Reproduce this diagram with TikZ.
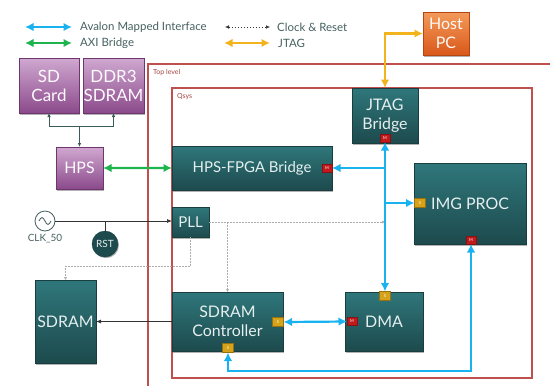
\documentclass[tikz,border=0pt]{standalone}
\usepackage{fontspec}
\setmainfont{Lato}
\usetikzlibrary{arrows.meta,shadows,calc}

\definecolor{tealtop}{HTML}{2F777B}
\definecolor{tealbot}{HTML}{1D4A4D}
\definecolor{tealedge}{HTML}{183E40}
\definecolor{purtop}{HTML}{D0A8D0}
\definecolor{purbot}{HTML}{8B4A8B}
\definecolor{puredge}{HTML}{6E356E}
\definecolor{ortop}{HTML}{F39A5A}
\definecolor{orbot}{HTML}{D9581A}
\definecolor{oredge}{HTML}{B4470F}
\definecolor{avlblue}{HTML}{19B2F0}
\definecolor{axigreen}{HTML}{1DB44E}
\definecolor{jtagyellow}{HTML}{F2B31C}
\definecolor{framered}{HTML}{C0504D}
\definecolor{legendtext}{HTML}{466060}
\definecolor{treeline}{HTML}{3B5B5B}
\definecolor{mred}{HTML}{C01A1C}
\definecolor{sgold}{HTML}{D6A21A}

\tikzset{
  box/.style={draw, line width=0.6bp, inner sep=0pt, outer sep=0pt, anchor=north west,
    align=center, drop shadow={shadow xshift=1.2bp, shadow yshift=-1.5bp, opacity=0.3, fill=black}},
  tealbox/.style={box, draw=tealedge, top color=tealtop, bottom color=tealbot, text=white!88!tealtop,
    font=\fontsize{16}{19}\selectfont},
  purbox/.style={box, draw=puredge, top color=purtop, bottom color=purbot, text=white!95!purtop,
    font=\fontsize{17}{19}\selectfont},
  orbox/.style={box, draw=oredge, top color=ortop, bottom color=orbot, text=white!95!ortop,
    font=\fontsize{16}{19}\selectfont},
  tagbase/.style={inner sep=0pt, outer sep=0pt, minimum width=10bp, minimum height=8bp,
    text=white, font=\fontsize{4}{4}\selectfont},
  mtag/.style={tagbase, fill=mred, draw=mred!70!black, line width=0.4bp},
  stag/.style={tagbase, fill=sgold, draw=sgold!70!black, line width=0.4bp, minimum width=11bp, minimum height=9bp},
  avl/.style={draw=avlblue, line width=2.2bp, >={Latex[length=8.5bp,width=8.5bp]}},
  axi/.style={draw=axigreen, line width=2.2bp, >={Latex[length=8.5bp,width=8.5bp]}},
  jtg/.style={draw=jtagyellow, line width=2.2bp, >={Latex[length=8.5bp,width=8.5bp]}},
  clkline/.style={draw=gray!65, dash pattern=on 1.5bp off 1.5bp, line width=0.5bp,
    >={Latex[length=3bp,width=3bp]}},
  blk/.style={draw=black!80, line width=0.7bp, >={Latex[length=5bp,width=4bp]}},
  tree/.style={draw=treeline, line width=0.8bp, >={Latex[length=4bp,width=3.5bp]}},
  frame/.style={draw=framered, line width=1.2bp},
  legend/.style={anchor=west, inner sep=0pt, text=legendtext, font=\fontsize{11.5}{13}\selectfont},
  framelabel/.style={anchor=west, inner sep=0pt, text=framered!85!black, font=\fontsize{7}{8}\selectfont},
}

\begin{document}
\begin{tikzpicture}[x=1bp, y=-1bp]
\useasboundingbox (0,0) rectangle (550,385);
\clip (0,0) rectangle (550,385);

% legend
\coordinate (la1) at (25,27);  \coordinate (la2) at (72,27);
\coordinate (lb1) at (25,43);  \coordinate (lb2) at (72,43);
\coordinate (lc1) at (225,27); \coordinate (lc2) at (270,27);
\coordinate (ld1) at (224,43); \coordinate (ld2) at (270,43);
\draw[avl,<->] (la1) -- (la2);
\draw[axi,<->] (lb1) -- (lb2);
\draw[blk,line width=0.5bp,dash pattern=on 1.5bp off 1.5bp,>={Latex[length=4bp,width=3.5bp]},<->] (lc1) -- (lc2);
\draw[jtg,<->] (ld1) -- (ld2);
\node[legend] (lta) at (80,27) {Avalon Mapped Interface};
\node[legend] (ltb) at (80,43) {AXI Bridge};
\node[legend] (ltc) at (277,27) {Clock \& Reset};
\node[legend] (ltd) at (278,43) {JTAG};

% frames
\draw[frame] (148,64) rectangle (600,420);
\draw[frame] (172,88) rectangle (532,378);
\node[framelabel] (toplabel) at (153,73) {Top level};
\node[framelabel] (qsyslabel) at (177,97) {Qsys};

% hard processor side
\node[purbox, minimum width=60bp, minimum height=55bp] (sdcard) at (19,58) {SD\\Card};
\node[purbox, minimum width=61bp, minimum height=55bp] (ddr3) at (83,58) {DDR3\\SDRAM};
\node[purbox, minimum width=47bp, minimum height=42bp, font=\fontsize{16}{19}\selectfont] (hps) at (56,147) {HPS};
\node[orbox, minimum width=46bp, minimum height=43bp] (hostpc) at (423,12) {Host\\PC};

% fabric blocks
\node[tealbox, minimum width=66bp, minimum height=55bp] (jtag) at (352,88) {JTAG\\Bridge};
\node[tealbox, minimum width=160bp, minimum height=44bp, font=\fontsize{15}{18}\selectfont] (hpsfpga) at (172,146) {HPS-FPGA Bridge};
\node[tealbox, minimum width=112bp, minimum height=81bp] (imgproc) at (414,163) {IMG PROC};
\node[tealbox, minimum width=37bp, minimum height=30bp, font=\fontsize{15}{18}\selectfont] (pll) at (172,207) {PLL};
\node[tealbox, minimum width=111bp, minimum height=59bp] (sdramctl) at (172,292) {SDRAM\\Controller};
\node[tealbox, minimum width=78bp, minimum height=59bp] (dma) at (345,292) {DMA};
\node[tealbox, minimum width=61bp, minimum height=83bp] (sdram) at (35,280) {SDRAM};

% interface tags
\node[mtag] (jtagM) at (385,138) {M};
\node[mtag] (hpsfpgaM) at (327,168) {M};
\node[stag] (imgS) at (420,203) {S};
\node[mtag] (imgM) at (471,240) {M};
\node[stag] (dmaS) at (385,296) {S};
\node[mtag] (dmaM) at (352,321.5) {M};
\node[stag] (ctlS) at (278,322) {S};
\node[stag] (ctlSb) at (228,348) {S};

% clock and reset sources
\node[circle, draw=legendtext, line width=0.8bp, fill=white, minimum size=20bp, inner sep=0pt] (clk) at (45,221) {};
\draw[legendtext, line width=0.8bp] ($(clk.center)+(-6,0)$) sin ++(3,-3.5) cos ++(3,3.5) sin ++(3,3.5) cos ++(3,-3.5);
\node[text=legendtext, font=\fontsize{10}{12}\selectfont, inner sep=0pt] (clklabel) at (45,239) {CLK\_50};
\node[circle, fill=tealbot, draw=tealedge, minimum size=26bp, inner sep=0pt, text=white!88!tealtop,
      font=\fontsize{10}{12}\selectfont, drop shadow={shadow xshift=1bp, shadow yshift=-1.2bp, opacity=0.3, fill=black}] (rst) at (105,244) {RST};

\draw[blk,->] (clk.east) -- (clk.east -| pll.west);
\draw[blk] (rst.north) -- (rst.north |- clk.east);

% clock distribution
\draw[clkline,->] (pll.east) -- (pll.east -| jtagM.south);
\draw[clkline,->] (pll.east -| sdramctl.north) -- (sdramctl.north);
\draw[clkline,->] (pll.south) -- ++(0,29) -| (sdram.north);

% HPS peripherals
\coordinate (fork) at (79.5,126);
\draw[tree,->] (fork) -- (hps.north);
\draw[tree,->] (fork) -| (sdcard.south);
\draw[tree,->] (fork) -| (ddr3.south);

% SDRAM pins
\draw[blk,->] (sdramctl.west) -- (sdram.east);

% bridges
\draw[axi,<->] (hps.east) -- (hpsfpga.west);
\draw[jtg,<->] (hostpc.west) -| (jtag.north);

% Avalon memory-mapped bus
\draw[avl,<->] (jtagM.south) -- (dmaS.north);
\draw[avl,->] (jtagM.south |- hpsfpgaM.east) -- (hpsfpgaM.east);
\draw[avl,->] (jtagM.south |- imgS.west) -- (imgS.west);
\draw[avl,<->] (ctlS.east) -- (dmaM.west);
\coordinate (loop) at (471,371);
\draw[avl,<->] (imgM.south) -- (loop) -| (ctlSb.south);
\end{tikzpicture}
\end{document}
